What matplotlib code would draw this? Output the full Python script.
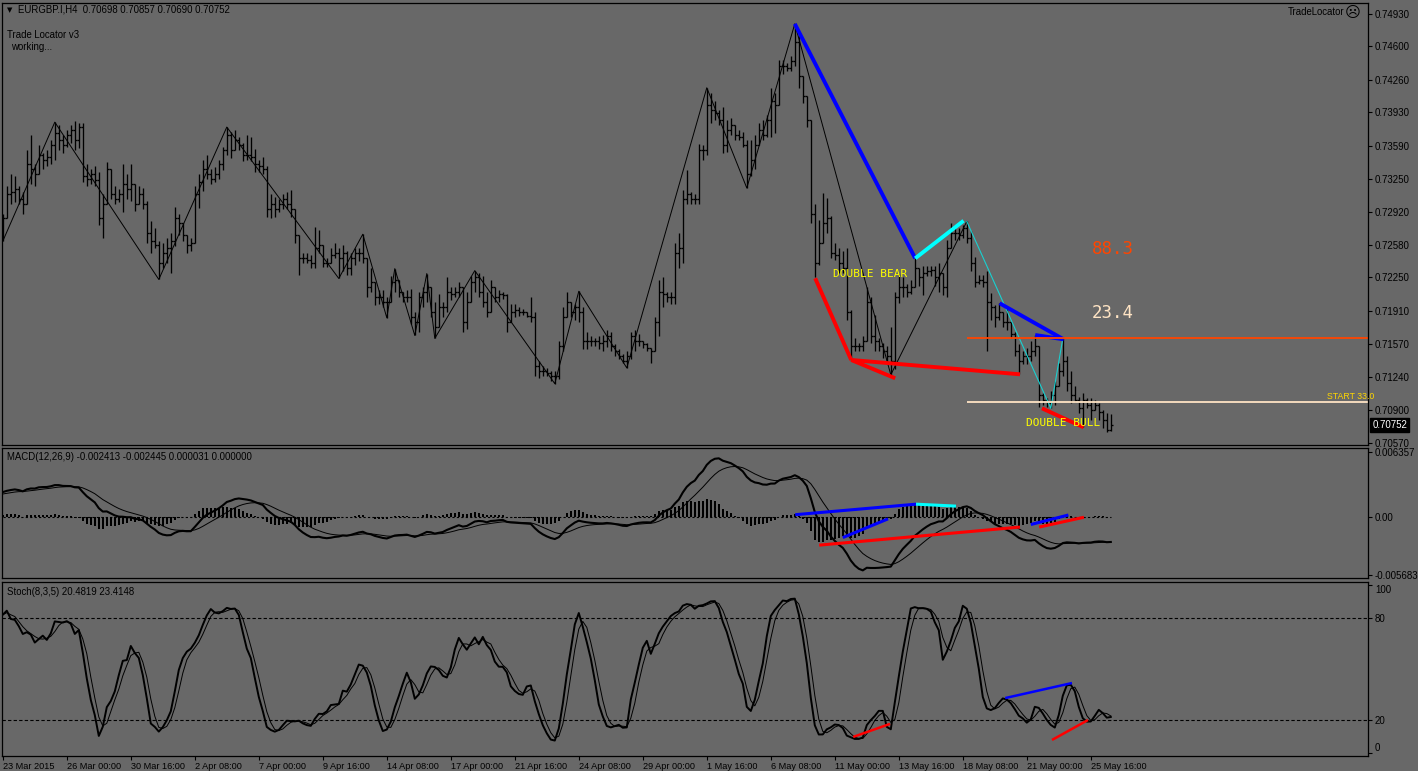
import matplotlib
matplotlib.use('Agg')
import matplotlib.pyplot as plt
import numpy as np
import pandas as pd

W, H = 1418, 771
BG = '#686868'
MT_FONT = ['Liberation Sans', 'DejaVu Sans']
MONO = ['DejaVu Sans Mono']

# EURGBP.I H4 quotes, in 1/10000 (7383 -> 0.7383); one row = 16 bars
HIGH = [
    7290, 7318, 7330, 7328, 7318, 7312, 7355, 7370, 7340, 7360, 7352, 7355, 7365, 7383, 7380, 7370,
    7375, 7380, 7384, 7382, 7382, 7340, 7335, 7338, 7332, 7310, 7342, 7322, 7318, 7315, 7340, 7330,
    7340, 7320, 7318, 7316, 7303, 7282, 7275, 7262, 7260, 7265, 7270, 7297, 7290, 7278, 7265, 7265,
    7318, 7330, 7344, 7350, 7335, 7337, 7345, 7358, 7378, 7373, 7375, 7368, 7362, 7370, 7368, 7356,
    7345, 7348, 7338, 7310, 7307, 7305, 7310, 7312, 7314, 7287, 7262, 7250, 7250, 7248, 7276, 7273,
    7258, 7245, 7255, 7260, 7255, 7258, 7252, 7250, 7255, 7255, 7269, 7236, 7235, 7217, 7212, 7212,
    7205, 7226, 7234, 7220, 7210, 7212, 7213, 7190, 7210, 7215, 7229, 7215, 7200, 7208, 7200, 7225,
    7215, 7215, 7220, 7212, 7210, 7226, 7232, 7230, 7226, 7210, 7222, 7212, 7212, 7210, 7208, 7198,
    7198, 7195, 7193, 7190, 7205, 7190, 7140, 7135, 7133, 7130, 7130, 7160, 7195, 7210, 7195, 7198,
    7211, 7195, 7170, 7165, 7163, 7165, 7167, 7172, 7170, 7157, 7152, 7147, 7150, 7170, 7172, 7168,
    7160, 7158, 7153, 7185, 7222, 7225, 7210, 7210, 7260, 7270, 7314, 7334, 7312, 7310, 7361, 7360,
    7418, 7413, 7405, 7395, 7398, 7385, 7387, 7380, 7375, 7373, 7365, 7365, 7370, 7382, 7385, 7390,
    7418, 7413, 7446, 7446, 7443, 7450, 7483, 7474, 7428, 7405, 7385, 7300, 7283, 7311, 7306, 7288,
    7260, 7255, 7252, 7255, 7192, 7163, 7158, 7165, 7215, 7205, 7187, 7163, 7158, 7155, 7175, 7210,
    7229, 7225, 7218, 7222, 7245, 7233, 7237, 7237, 7237, 7237, 7240, 7230, 7263, 7280, 7278, 7275,
    7278, 7282, 7272, 7246, 7228, 7228, 7232, 7209, 7197, 7199, 7190, 7195, 7178, 7170, 7157, 7150,
    7153, 7160, 7166, 7155, 7108, 7102, 7110, 7120, 7138, 7163, 7145, 7130, 7115, 7103, 7107, 7102,
    7102, 7100, 7097, 7090, 7087, 7085.7,
]
LOW = [
    7262, 7285, 7300, 7302, 7300, 7290, 7300, 7320, 7318, 7330, 7335, 7338, 7340, 7345, 7355, 7352,
    7358, 7362, 7355, 7357, 7322, 7318, 7320, 7318, 7278, 7265, 7300, 7305, 7300, 7302, 7292, 7305,
    7303, 7293, 7303, 7295, 7260, 7250, 7255, 7223, 7235, 7240, 7230, 7257, 7268, 7262, 7250, 7252,
    7262, 7296, 7313, 7325, 7320, 7322, 7325, 7334, 7350, 7347, 7355, 7355, 7343, 7345, 7343, 7332,
    7332, 7330, 7287, 7285, 7287, 7292, 7295, 7295, 7287, 7260, 7228, 7240, 7240, 7235, 7235, 7250,
    7236, 7236, 7240, 7245, 7224, 7232, 7228, 7228, 7238, 7242, 7240, 7205, 7210, 7197, 7198, 7195,
    7184, 7200, 7210, 7205, 7200, 7200, 7178, 7166, 7170, 7195, 7200, 7185, 7163, 7175, 7185, 7190,
    7202, 7205, 7205, 7170, 7173, 7200, 7210, 7205, 7195, 7185, 7190, 7200, 7200, 7203, 7170, 7180,
    7185, 7186, 7187, 7185, 7180, 7125, 7123, 7125, 7125, 7120, 7117, 7122, 7150, 7185, 7185, 7182,
    7180, 7152, 7152, 7155, 7155, 7152, 7150, 7154, 7150, 7145, 7142, 7138, 7133, 7142, 7150, 7155,
    7153, 7150, 7138, 7150, 7165, 7195, 7200, 7198, 7198, 7235, 7240, 7300, 7300, 7300, 7300, 7345,
    7350, 7382, 7385, 7380, 7352, 7353, 7370, 7365, 7365, 7358, 7316, 7328, 7335, 7365, 7365, 7368,
    7368, 7372, 7408, 7432, 7435, 7435, 7440, 7418, 7402, 7378, 7280, 7225, 7238, 7260, 7270, 7245,
    7243, 7230, 7230, 7182, 7141, 7150, 7150, 7150, 7160, 7158, 7150, 7150, 7143, 7138, 7126, 7132,
    7199, 7205, 7205, 7208, 7215, 7216, 7207, 7227, 7227, 7216, 7210, 7207, 7205, 7260, 7263, 7263,
    7265, 7260, 7232, 7215, 7218, 7215, 7150, 7182, 7175, 7182, 7175, 7172, 7163, 7145, 7127, 7137,
    7137, 7140, 7145, 7093, 7095, 7093, 7092, 7095, 7115, 7125, 7110, 7097, 7098, 7087, 7073, 7092,
    7080, 7092, 7080, 7072, 7068, 7069.0,
]
CLOSE = [
    7285, 7310, 7312, 7315, 7305, 7300, 7340, 7335, 7330, 7350, 7345, 7348, 7360, 7372, 7365, 7360,
    7370, 7375, 7365, 7378, 7328, 7325, 7330, 7324, 7285, 7300, 7335, 7310, 7305, 7310, 7320, 7315,
    7320, 7300, 7310, 7300, 7270, 7262, 7258, 7240, 7250, 7255, 7262, 7285, 7280, 7268, 7258, 7260,
    7310, 7322, 7335, 7330, 7325, 7330, 7340, 7355, 7370, 7355, 7365, 7360, 7350, 7350, 7348, 7340,
    7338, 7335, 7295, 7300, 7295, 7300, 7305, 7300, 7295, 7268, 7245, 7245, 7243, 7240, 7255, 7258,
    7240, 7240, 7248, 7250, 7245, 7250, 7235, 7245, 7250, 7250, 7245, 7215, 7220, 7205, 7205, 7200,
    7200, 7220, 7222, 7210, 7205, 7205, 7185, 7180, 7205, 7210, 7215, 7190, 7175, 7195, 7195, 7210,
    7208, 7210, 7215, 7180, 7200, 7220, 7225, 7210, 7200, 7190, 7215, 7205, 7208, 7207, 7180, 7190,
    7192, 7190, 7190, 7186, 7185, 7135, 7130, 7130, 7128, 7125, 7125, 7155, 7185, 7200, 7190, 7195,
    7190, 7160, 7160, 7160, 7160, 7158, 7160, 7165, 7155, 7150, 7145, 7140, 7145, 7165, 7160, 7160,
    7157, 7153, 7150, 7180, 7210, 7208, 7205, 7205, 7250, 7255, 7305, 7310, 7305, 7305, 7355, 7355,
    7400, 7395, 7392, 7385, 7360, 7375, 7380, 7370, 7368, 7360, 7330, 7345, 7360, 7375, 7370, 7385,
    7405, 7400, 7440, 7440, 7438, 7445, 7465, 7430, 7410, 7385, 7290, 7240, 7260, 7280, 7285, 7250,
    7248, 7240, 7235, 7190, 7155, 7155, 7155, 7160, 7200, 7165, 7160, 7155, 7150, 7145, 7140, 7205,
    7215, 7215, 7210, 7215, 7235, 7225, 7230, 7232, 7233, 7225, 7230, 7215, 7255, 7270, 7270, 7268,
    7275, 7265, 7240, 7220, 7222, 7220, 7200, 7195, 7185, 7190, 7180, 7180, 7168, 7150, 7140, 7145,
    7145, 7150, 7155, 7105, 7100, 7097, 7105, 7115, 7130, 7140, 7118, 7105, 7100, 7092, 7100, 7095,
    7090, 7095, 7088, 7080, 7069.8, 7075.2,
]
FIRST_OPEN = 7265

TICK_LABELS = ['23 Mar 2015', '26 Mar 00:00', '30 Mar 16:00', '2 Apr 08:00', '7 Apr 00:00',
               '9 Apr 16:00', '14 Apr 08:00', '17 Apr 00:00', '21 Apr 16:00', '24 Apr 08:00',
               '29 Apr 00:00', '1 May 16:00', '6 May 08:00', '11 May 00:00', '13 May 16:00',
               '18 May 08:00', '21 May 00:00', '25 May 16:00']
TICK_EVERY = 16

PRICE_TICKS = [0.74930, 0.74600, 0.74260, 0.73930, 0.73590, 0.73250, 0.72920,
               0.72580, 0.72250, 0.71910, 0.71570, 0.71240, 0.70900, 0.70570]

# zigzag pivots: (bar, 'H' high / 'L' low)
ZIGZAG_BLACK = [(0, 'L'), (13, 'H'), (39, 'L'), (56, 'H'), (84, 'L'), (90, 'H'), (96, 'L'),
                (98, 'H'), (103, 'L'), (106, 'H'), (108, 'L'), (118, 'H'), (138, 'L'),
                (144, 'H'), (156, 'L'), (176, 'H'), (186, 'L'), (198, 'H'), (222, 'L'), (241, 'H')]
ZIGZAG_CYAN = [(241, 'H'), (262, 'L'), (265, 'H')]

# Trade Locator pattern lines: (bar, price) -> (bar, price), colour
PATTERN_LINES = [
    ((198.0, 0.74830), (228.1, 0.72445), '#0000ff'),
    ((228.1, 0.72445), (240.2, 0.72827), '#00ffff'),
    ((203.1, 0.72242), (212.1, 0.71411), '#ff0000'),
    ((212.1, 0.71411), (223.1, 0.71225), '#ff0000'),
    ((212.1, 0.71411), (254.3, 0.71265), '#ff0000'),
    ((249.2, 0.71988), (265.2, 0.71621), '#0000ff'),
    ((258.1, 0.71665), (265.2, 0.71621), '#0000ff'),
    ((259.8, 0.70919), (270.2, 0.70726), '#ff0000'),
]
FIB_START_BAR = 241
FIB_HIGH = 0.71631
FIB_LOW = 0.70987

MACD_LINES = [
    ((198.1, 0.00022), (228.3, 0.00125), '#0000ff'),
    ((228.3, 0.00125), (238.3, 0.00106), '#00ffff'),
    ((210.0, -0.00202), (221.3, -0.00019), '#0000ff'),
    ((204.1, -0.00276), (254.3, -0.00099), '#ff0000'),
    ((257.0, -0.00074), (266.4, 0.00019), '#0000ff'),
    ((259.1, -0.00099), (270.3, -0.00003), '#ff0000'),
]
STOCH_LINES = [
    ((212.6, 9.8), (221.8, 17.5), '#ff0000'),
    ((250.6, 32.8), (267.3, 41.7), '#0000ff'),
    ((262.3, 8.0), (271.3, 19.8), '#ff0000'),
]

# indicator state before the first visible bar
EMA12_SEED = 0.7270
EMA26_SEED = 0.7245
SIGNAL_SEED = 0.0022

high = np.array(HIGH) / 10000.0
low = np.array(LOW) / 10000.0
close = np.array(CLOSE) / 10000.0
open_ = np.concatenate([[FIRST_OPEN / 10000.0], close[:-1]])
high = np.maximum(high, np.maximum(open_, close))
low = np.minimum(low, np.minimum(open_, close))
n = len(close)
bars = np.arange(n)


def ema(values, span, seed):
    out = np.empty(len(values))
    a = 2.0 / (span + 1)
    prev = seed
    for k, v in enumerate(values):
        prev = prev + a * (v - prev)
        out[k] = prev
    return out


macd_main = ema(close, 12, EMA12_SEED) - ema(close, 26, EMA26_SEED)
macd_signal = ema(macd_main, 9, SIGNAL_SEED)
macd_hist = macd_main - macd_signal

s_high = pd.Series(high)
s_low = pd.Series(low)
s_close = pd.Series(close)
ll = s_low.rolling(8, min_periods=1).min()
hh = s_high.rolling(8, min_periods=1).max()
k_line = 100 * (s_close - ll).rolling(5, min_periods=1).sum() / (hh - ll).rolling(5, min_periods=1).sum()
d_line = k_line.rolling(3, min_periods=1).mean()


def rect(x0, y0, x1, y1):
    return [x0 / W, 1 - y1 / H, (x1 - x0) / W, (y1 - y0) / H]


def fx(x):
    return x / W


def fy(y):
    return 1 - y / H


fig = plt.figure(figsize=(W / 100, H / 100), dpi=100, facecolor=BG)
ax = fig.add_axes(rect(2, 3, 1368, 445))
ax_m = fig.add_axes(rect(2, 448, 1368, 578))
ax_s = fig.add_axes(rect(2, 582, 1368, 756))

for a in (ax, ax_m, ax_s):
    a.set_facecolor(BG)
    a.set_xlim(-0.2, 341.3)
    for sp in a.spines.values():
        sp.set_color('black')
        sp.set_linewidth(0.9)
    a.yaxis.tick_right()
    a.tick_params(axis='y', direction='out', length=3, width=0.8, pad=2,
                  labelsize=7, colors='black')
    a.tick_params(axis='x', bottom=False, labelbottom=False)

# ---- price panel
ax.set_ylim(0.70546, 0.75042)
ax.vlines(bars, low, high, color='black', lw=0.95)
ax.hlines(open_, bars - 0.45, bars, color='black', lw=0.95)
ax.hlines(close, bars, bars + 0.45, color='black', lw=0.95)


def pivot_xy(pivots):
    xs = [p[0] for p in pivots]
    ys = [high[p[0]] if p[1] == 'H' else low[p[0]] for p in pivots]
    return xs, ys


zx, zy = pivot_xy(ZIGZAG_BLACK)
ax.plot(zx, zy, color='black', lw=0.7)
cx, cy = pivot_xy(ZIGZAG_CYAN)
ax.plot(cx, cy, color='#19d0d0', lw=0.8)

for (x0, y0), (x1, y1), col in PATTERN_LINES:
    ax.plot([x0, x1], [y0, y1], color=col, lw=2.8, solid_capstyle='butt')

ax.hlines(FIB_HIGH, FIB_START_BAR, 341.3, color='#ff4500', lw=1.3)
ax.hlines(FIB_LOW, FIB_START_BAR, 341.3, color='#ffe4c4', lw=1.3)
ax.text(342.8, 0.71035, 'START 33.0', color='#ffd700', fontsize=6.3, family=MT_FONT,
        ha='right', va='center', clip_on=False)
ax.text(272.2, 0.7254, '88.3', color='#ff4500', fontsize=12.5, family=MONO, ha='left', va='center')
ax.text(272.2, 0.7189, '23.4', color='#ffe4c4', fontsize=12.5, family=MONO, ha='left', va='center')
ax.text(207.6, 0.72285, 'DOUBLE BEAR', color='#ffff00', fontsize=8, family=MONO, ha='left', va='center')
ax.text(255.7, 0.7077, 'DOUBLE BULL', color='#ffff00', fontsize=8, family=MONO, ha='left', va='center')

ax.set_yticks(PRICE_TICKS)
ax.set_yticklabels([f'{v:.5f}' for v in PRICE_TICKS], family=MT_FONT)
ax.annotate(f'{close[-1]:.5f}', xy=(1.0, close[-1]), xycoords=('axes fraction', 'data'),
            xytext=(3, 0), textcoords='offset points', color='white', fontsize=7,
            family=MT_FONT, va='center', ha='left',
            bbox=dict(boxstyle='square,pad=0.22', fc='black', ec='black'))

# ---- MACD panel
ax_m.set_ylim(-0.005977, 0.006749)
ax_m.bar(bars, macd_hist, width=0.55, color='black', linewidth=0)
ax_m.plot([0, n - 1], [0, 0], color='black', lw=0.8, ls=(0, (2, 2)))
ax_m.plot(bars, macd_main, color='black', lw=1.5)
ax_m.plot(bars, macd_signal, color='black', lw=0.7)
for (x0, y0), (x1, y1), col in MACD_LINES:
    ax_m.plot([x0, x1], [y0, y1], color=col, lw=2.2, solid_capstyle='butt')
ax_m.set_yticks([0.006357, 0.0, -0.005683])
ax_m.set_yticklabels(['0.006357', '0.00', '-0.005683'], family=MT_FONT)

# ---- Stochastic panel
ax_s.set_ylim(-1.5, 101.5)
for lvl in (80, 20):
    ax_s.axhline(lvl, color='black', lw=0.8, ls=(0, (3, 2)))
ax_s.plot(bars, k_line, color='black', lw=1.4)
ax_s.plot(bars, d_line, color='black', lw=0.7)
for (x0, y0), (x1, y1), col in STOCH_LINES:
    ax_s.plot([x0, x1], [y0, y1], color=col, lw=1.8, solid_capstyle='butt')
ax_s.set_yticks([100, 80, 20, 0])
ax_s.set_yticklabels(['100', '80', '20', '0'], family=MT_FONT)
labs = ax_s.get_yticklabels()
labs[0].set_va('top')
labs[-1].set_va('bottom')

ax_s.tick_params(axis='x', bottom=True, labelbottom=True, direction='out', length=3,
                 width=0.8, pad=1, labelsize=6.6, colors='black')
ax_s.set_xticks(np.arange(len(TICK_LABELS)) * TICK_EVERY)
ax_s.set_xticklabels(TICK_LABELS, family=MT_FONT)
for lab in ax_s.get_xticklabels():
    lab.set_ha('left')

# ---- header texts
fig.text(fx(7), fy(10), '\u25bc', fontsize=5, family=['DejaVu Sans'], va='center', ha='left')
fig.text(fx(18), fy(10), 'EURGBP.I,H4  0.70698 0.70857 0.70690 0.70752', fontsize=6.9,
         family=MT_FONT, va='center', ha='left')
fig.text(fx(7), fy(35), 'Trade Locator v3', fontsize=6.9, family=MT_FONT, va='center', ha='left')
fig.text(fx(11), fy(47), 'working...', fontsize=6.9, family=MT_FONT, va='center', ha='left')
fig.text(fx(1344), fy(12), 'TradeLocator', fontsize=6.9, family=MT_FONT, va='center', ha='right')
fig.text(fx(1345), fy(12.5), '\u2639', fontsize=11, family=['DejaVu Sans'], va='center', ha='left')
fig.text(fx(7), fy(457), 'MACD(12,26,9) -0.002413 -0.002445 0.000031 0.000000', fontsize=6.9,
         family=MT_FONT, va='center', ha='left')
fig.text(fx(7), fy(592), 'Stoch(8,3,5) 20.4819 23.4148', fontsize=6.9,
         family=MT_FONT, va='center', ha='left')

fig.savefig('out.png', dpi=100, facecolor=BG)
